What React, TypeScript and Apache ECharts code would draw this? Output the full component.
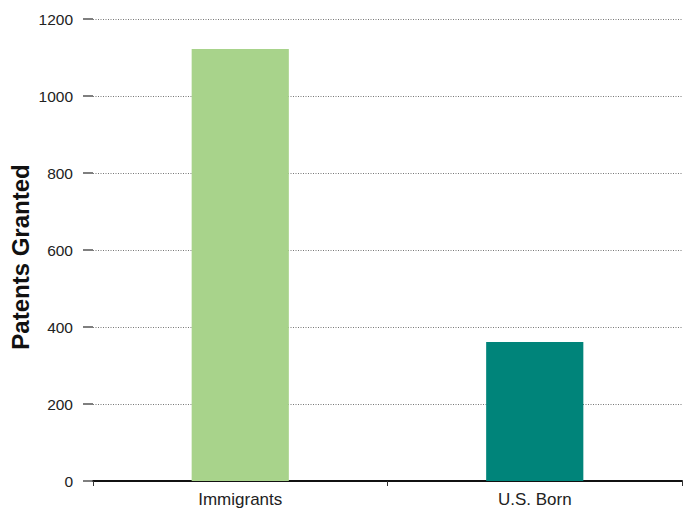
import React, { useEffect, useRef } from "react";
import * as echarts from "echarts";

const categories = ["Immigrants", "U.S. Born"];
const patents = [1122, 361];
const barColors = ["#a8d38b", "#00847a"];
const yTicks = { min: 0, max: 1200, interval: 200 };

export default function App() {
  const ref = useRef<HTMLDivElement>(null);
  useEffect(() => {
    if (!ref.current) return;
    const chart = echarts.init(ref.current, null, { renderer: "svg" });
    chart.setOption({
      animation: false,
      backgroundColor: "#ffffff",
      textStyle: { fontFamily: "Liberation Sans, Arial, sans-serif" },
      grid: {
        left: 93,
        right: 4,
        top: 19,
        bottom: 31,
        containLabel: false,
        outerBoundsMode: "none",
      },
      xAxis: {
        type: "category",
        data: categories,
        axisLine: { show: true, lineStyle: { color: "#111", width: 2 } },
        axisTick: { show: true, length: 5, lineStyle: { color: "#333", width: 1 } },
        axisLabel: { color: "#222", fontSize: 17, margin: 10 },
        splitLine: { show: false },
      },
      yAxis: {
        type: "value",
        min: yTicks.min,
        max: yTicks.max,
        interval: yTicks.interval,
        name: "Patents Granted",
        nameLocation: "middle",
        nameGap: 61,
        nameRotate: 90,
        nameMoveOverlap: false,
        nameTextStyle: {
          color: "#111",
          fontSize: 24,
          fontWeight: "bold",
          padding: [0, 14, 0, 0],
        },
        axisLine: { show: false },
        axisTick: { show: true, length: 10, lineStyle: { color: "#555", width: 1.5 } },
        axisLabel: {
          color: "#222",
          fontSize: 15.5,
          margin: 20,
          formatter: (v: number) => String(v),
        },
        splitLine: { show: true, lineStyle: { color: "#777", type: [1, 1.5], width: 1 } },
      },
      series: [
        {
          type: "bar",
          data: patents.map((v, i) => ({ value: v, itemStyle: { color: barColors[i] } })),
          barWidth: "33%",
        },
      ],
    });
    return () => chart.dispose();
  }, []);
  return (
    <div
      ref={ref}
      style={{ position: "fixed", left: 0, top: 0, width: 686, height: 512 }}
    />
  );
}
